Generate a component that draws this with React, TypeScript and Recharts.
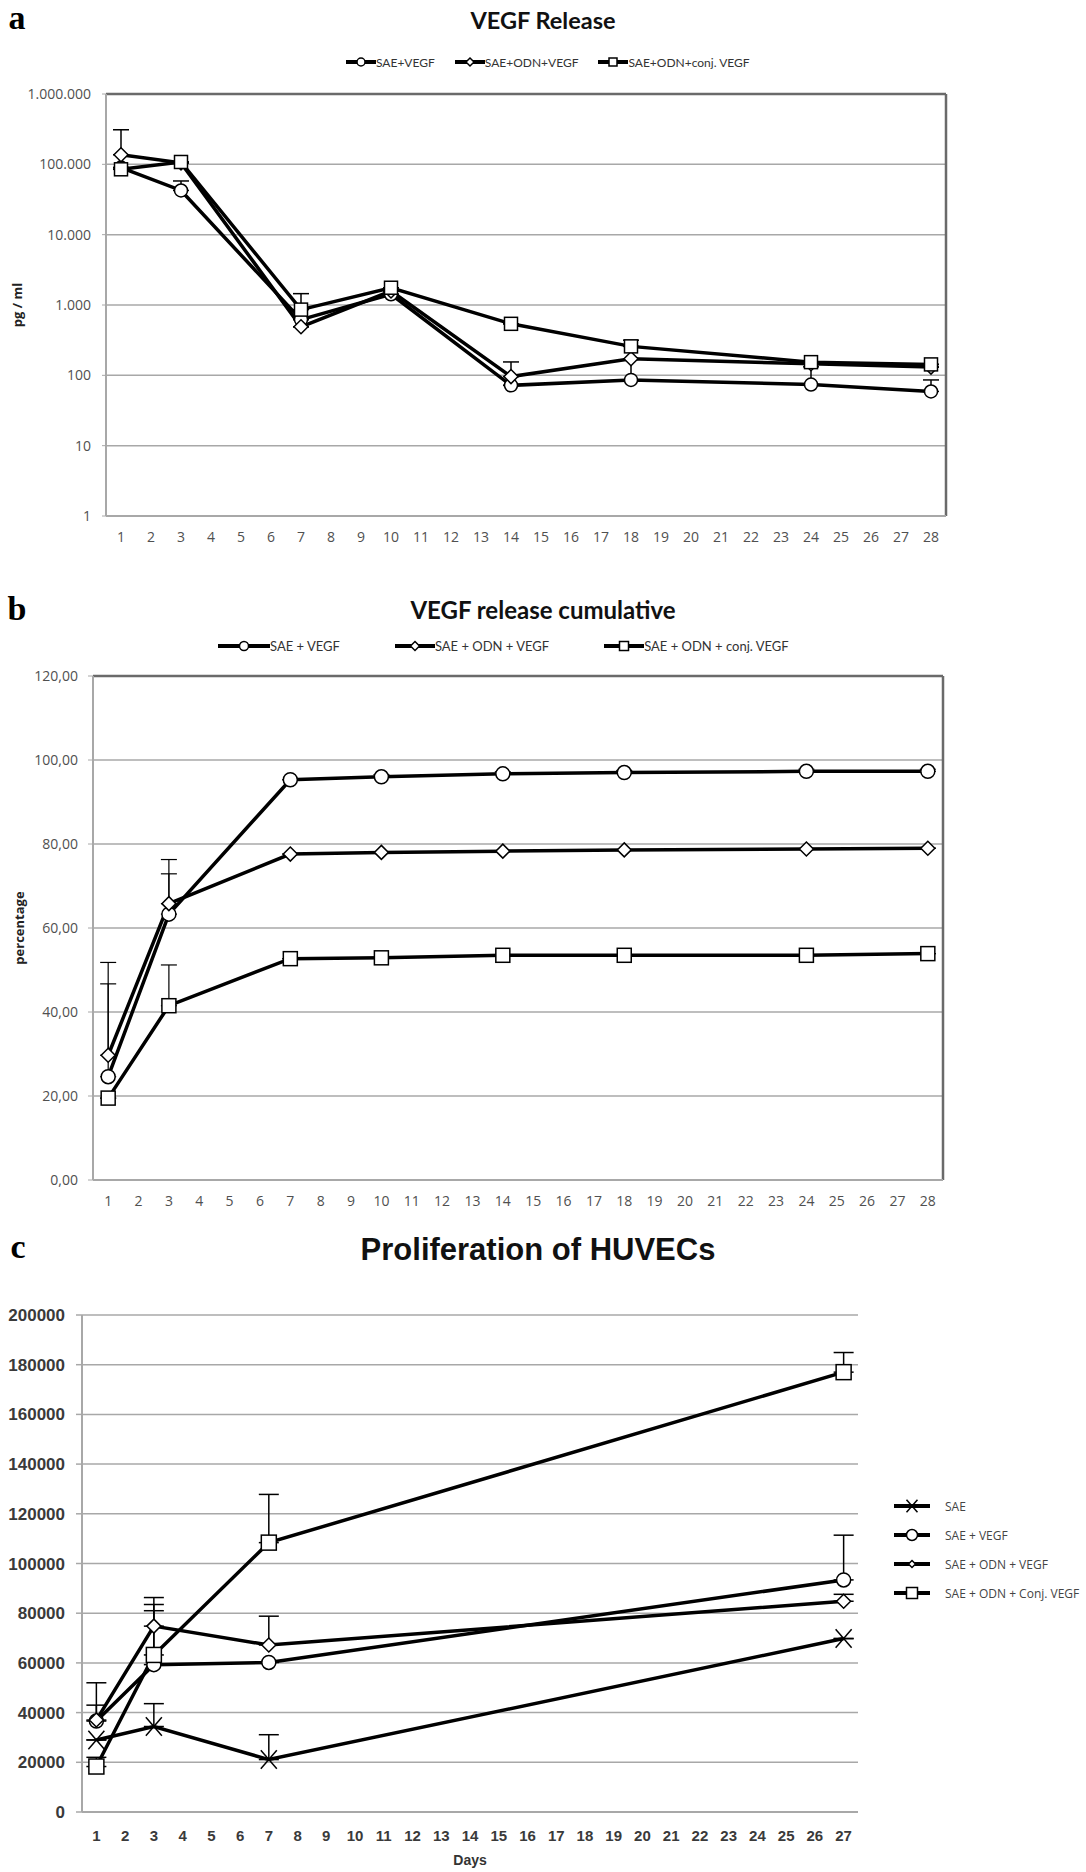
import React from 'react';
import {
  CartesianGrid,
  ErrorBar,
  Line,
  LineChart,
  ReferenceLine,
  XAxis,
  YAxis,
} from 'recharts';

// panel a: VEGF release, pg/ml on a log axis
const releaseDays = [1, 3, 7, 10, 14, 18, 24, 28];
const releaseSaeVegf = [90000, 42500, 620, 1420, 72, 86, 74, 59];
const releaseSaeOdnVegf = [137000, 105000, 490, 1580, 96, 172, 146, 131];
const releaseSaeOdnConj = [85000, 108000, 860, 1760, 540, 258, 154, 143];
const releaseSaeVegfErr = [0, 15500, 0, 0, 0, 84, 58, 27];
const releaseSaeOdnVegfErr = [173000, 0, 0, 0, 59, 0, 0, 0];
const releaseSaeOdnConjErr = [0, 0, 590, 0, 0, 58, 0, 0];
const releaseTicks = [1, 10, 100, 1000, 10000, 100000, 1000000];
const releaseLegend = ['SAE+VEGF', 'SAE+ODN+VEGF', 'SAE+ODN+conj. VEGF'];

// panel b: cumulative release, percentage
const cumulativeSaeVegf = [24.6, 63.3, 95.3, 96.0, 96.7, 97.0, 97.3, 97.3];
const cumulativeSaeOdnVegf = [29.7, 65.8, 77.6, 78.0, 78.3, 78.6, 78.8, 79.0];
const cumulativeSaeOdnConj = [19.5, 41.5, 52.7, 52.9, 53.5, 53.5, 53.5, 53.9];
const cumulativeSaeVegfErr = [22.1, 9.6, 0, 0.5, 0.5, 0.5, 0.5, 0.5];
const cumulativeSaeOdnVegfErr = [22.1, 10.5, 0, 0, 0, 0, 0, 0];
const cumulativeSaeOdnConjErr = [0, 9.7, 0, 0, 0, 0, 0, 0];
const cumulativeTicks = [0, 20, 40, 60, 80, 100, 120];
const cumulativeLegend = ['SAE + VEGF', 'SAE + ODN + VEGF', 'SAE + ODN + conj. VEGF'];

// panel c: proliferation of HUVECs
const prolifDays = [1, 3, 7, 27];
const prolifSae = [29000, 34400, 21100, 69800];
const prolifSaeVegf = [36600, 59300, 60200, 93400];
const prolifSaeOdnVegf = [37000, 74800, 67200, 84800];
const prolifSaeOdnConj = [18300, 63200, 108400, 177000];
const prolifSaeErr = [0, 9200, 10000, 0];
const prolifSaeVegfErr = [6400, 21700, 0, 18000];
const prolifSaeOdnVegfErr = [15000, 11500, 11600, 2800];
const prolifSaeOdnConjErr = [3700, 20300, 19400, 7900];
const prolifTicks = [0, 20000, 40000, 60000, 80000, 100000, 120000, 140000, 160000, 180000, 200000];
const prolifLegend = ['SAE', 'SAE + VEGF', 'SAE + ODN + VEGF', 'SAE + ODN + Conj. VEGF'];

const daysTo28 = [1, 2, 3, 4, 5, 6, 7, 8, 9, 10, 11, 12, 13, 14, 15, 16, 17, 18, 19, 20, 21, 22, 23, 24, 25, 26, 27, 28];
const daysTo27 = daysTo28.slice(0, 27);
const edgesOf = (days: number[]) => [days[0] - 0.5, ...days.map((d) => d + 0.5)];

const releaseRows = releaseDays.map((day, i) => ({
  day,
  saeVegf: releaseSaeVegf[i],
  saeOdnVegf: releaseSaeOdnVegf[i],
  saeOdnConj: releaseSaeOdnConj[i],
  saeVegfErr: [0, releaseSaeVegfErr[i]],
  saeOdnVegfErr: [0, releaseSaeOdnVegfErr[i]],
  saeOdnConjErr: [0, releaseSaeOdnConjErr[i]],
}));

const cumulativeRows = releaseDays.map((day, i) => ({
  day,
  saeVegf: cumulativeSaeVegf[i],
  saeOdnVegf: cumulativeSaeOdnVegf[i],
  saeOdnConj: cumulativeSaeOdnConj[i],
  saeVegfErr: [0, cumulativeSaeVegfErr[i]],
  saeOdnVegfErr: [0, cumulativeSaeOdnVegfErr[i]],
  saeOdnConjErr: [0, cumulativeSaeOdnConjErr[i]],
}));

const prolifRows = prolifDays.map((day, i) => ({
  day,
  sae: prolifSae[i],
  saeVegf: prolifSaeVegf[i],
  saeOdnVegf: prolifSaeOdnVegf[i],
  saeOdnConj: prolifSaeOdnConj[i],
  saeErr: [0, prolifSaeErr[i]],
  saeVegfErr: [0, prolifSaeVegfErr[i]],
  saeOdnVegfErr: [0, prolifSaeOdnVegfErr[i]],
  saeOdnConjErr: [0, prolifSaeOdnConjErr[i]],
}));

const GRID = '#a8a8a8';
const FRAME = '#6a6a6a';
const LABEL_FONT = 'Open Sans, sans-serif';

type Shape = 'circle' | 'diamond' | 'square' | 'cross';

function Marker({ cx, cy, shape, size }: { cx?: number; cy?: number; shape: Shape; size: number }) {
  if (cx == null || cy == null || Number.isNaN(cx) || Number.isNaN(cy)) return null;
  const s = size;
  const common = { fill: '#fff', stroke: '#000', strokeWidth: 1.5 };
  if (shape === 'circle') return <circle cx={cx} cy={cy} r={s} {...common} />;
  if (shape === 'square') return <rect x={cx - s} y={cy - s} width={2 * s} height={2 * s} {...common} />;
  if (shape === 'diamond')
    return <polygon points={`${cx},${cy - s} ${cx + s},${cy} ${cx},${cy + s} ${cx - s},${cy}`} {...common} />;
  return (
    <g stroke="#000" strokeWidth={1.5}>
      <line x1={cx - s} y1={cy - s * 1.15} x2={cx + s} y2={cy + s * 1.15} />
      <line x1={cx - s} y1={cy + s * 1.15} x2={cx + s} y2={cy - s * 1.15} />
    </g>
  );
}

const dotOf = (shape: Shape, size: number) => (p: any) => (
  <Marker key={`${shape}-${p.index}`} cx={p.cx} cy={p.cy} shape={shape} size={size} />
);

function LegendIcon({ shape, width, size }: { shape: Shape; width: number; size: number }) {
  return (
    <svg width={width} height={18} style={{ display: 'block', flex: 'none' }}>
      <line x1={0} y1={9} x2={width} y2={9} stroke="#000" strokeWidth={4} />
      <Marker cx={width / 2} cy={9} shape={shape} size={size} />
    </svg>
  );
}

function Caption({ x, y, style, children }: { x: number; y: number; style?: React.CSSProperties; children: React.ReactNode }) {
  return (
    <div
      style={{
        position: 'absolute',
        left: x,
        top: y,
        transform: 'translate(-50%, -50%)',
        whiteSpace: 'nowrap',
        lineHeight: 1,
        ...style,
      }}
    >
      {children}
    </div>
  );
}

const panelLetter: React.CSSProperties = {
  fontFamily: 'Liberation Serif, serif',
  fontWeight: 700,
  fontSize: 34,
  color: '#000',
};

const dotted = (v: number) => String(v).replace(/\B(?=(\d{3})+(?!\d))/g, '.');
const comma = (v: number) => v.toFixed(2).replace('.', ',');

const seriesLine = {
  type: 'linear' as const,
  stroke: '#000',
  strokeWidth: 3.5,
  activeDot: false as const,
  isAnimationActive: false,
};

function ReleaseChart() {
  return (
    <LineChart width={1086} height={560} data={releaseRows} margin={{ top: 94, right: 140, bottom: 0, left: 0 }}>
      <CartesianGrid vertical={false} stroke={GRID} strokeWidth={1.5} />
      <XAxis
        dataKey="day"
        type="number"
        domain={[0.5, 28.5]}
        ticks={daysTo28}
        interval={0}
        tickLine={false}
        axisLine={{ stroke: GRID, strokeWidth: 2 }}
        tickMargin={10}
        height={44}
        tick={{ fontSize: 14, fill: '#505050', fontFamily: LABEL_FONT }}
      />
      <YAxis
        scale="log"
        domain={[1, 1000000]}
        ticks={releaseTicks}
        interval={0}
        allowDataOverflow
        width={106}
        tickSize={4}
        tickMargin={11}
        tickLine={{ stroke: GRID }}
        axisLine={{ stroke: GRID, strokeWidth: 2 }}
        tickFormatter={dotted}
        tick={{ fontSize: 14, fill: '#505050', fontFamily: LABEL_FONT }}
        label={{
          value: 'pg / ml',
          angle: -90,
          position: 'insideLeft',
          offset: 17,
          style: { textAnchor: 'middle' },
          fontSize: 13,
          fontWeight: 700,
          fill: '#222',
          fontFamily: LABEL_FONT,
        }}
      />
      <ReferenceLine y={1000000} stroke={FRAME} strokeWidth={2.5} />
      <ReferenceLine x={28.5} stroke={FRAME} strokeWidth={2.5} />
      <Line dataKey="saeVegf" {...seriesLine} dot={dotOf('circle', 6.5)}>
        <ErrorBar dataKey="saeVegfErr" direction="y" width={8} stroke="#000" strokeWidth={1.5} />
      </Line>
      <Line dataKey="saeOdnVegf" {...seriesLine} dot={dotOf('diamond', 7)}>
        <ErrorBar dataKey="saeOdnVegfErr" direction="y" width={8} stroke="#000" strokeWidth={1.5} />
      </Line>
      <Line dataKey="saeOdnConj" {...seriesLine} dot={dotOf('square', 6.5)}>
        <ErrorBar dataKey="saeOdnConjErr" direction="y" width={8} stroke="#000" strokeWidth={1.5} />
      </Line>
    </LineChart>
  );
}

function CumulativeChart() {
  return (
    <LineChart width={1086} height={680} data={cumulativeRows} margin={{ top: 116, right: 143, bottom: 0, left: 0 }}>
      <CartesianGrid vertical={false} stroke={GRID} strokeWidth={1.5} />
      <XAxis
        dataKey="day"
        type="number"
        domain={[0.5, 28.5]}
        ticks={edgesOf(daysTo28)}
        interval={0}
        tick={false}
        tickSize={5}
        tickLine={{ stroke: GRID, strokeWidth: 1.5 }}
        axisLine={{ stroke: GRID, strokeWidth: 2 }}
        height={1}
      />
      <XAxis
        xAxisId="days"
        dataKey="day"
        type="number"
        domain={[0.5, 28.5]}
        ticks={daysTo28}
        interval={0}
        tickLine={false}
        axisLine={false}
        tickMargin={9}
        height={59}
        tick={{ fontSize: 14, fill: '#505050', fontFamily: LABEL_FONT }}
      />
      <YAxis
        domain={[0, 120]}
        ticks={cumulativeTicks}
        interval={0}
        width={93}
        tickSize={5}
        tickMargin={10}
        tickLine={{ stroke: GRID }}
        axisLine={{ stroke: GRID, strokeWidth: 2 }}
        tickFormatter={comma}
        tick={{ fontSize: 14, fill: '#505050', fontFamily: LABEL_FONT }}
        label={{
          value: 'percentage',
          angle: -90,
          position: 'insideLeft',
          offset: 19,
          style: { textAnchor: 'middle' },
          fontSize: 13,
          fontWeight: 700,
          fill: '#222',
          fontFamily: LABEL_FONT,
        }}
      />
      <ReferenceLine y={120} stroke={FRAME} strokeWidth={2.5} />
      <ReferenceLine x={28.5} stroke={FRAME} strokeWidth={2.5} />
      <Line dataKey="saeVegf" {...seriesLine} dot={dotOf('circle', 7)}>
        <ErrorBar dataKey="saeVegfErr" direction="y" width={8} stroke="#000" strokeWidth={1.2} />
      </Line>
      <Line dataKey="saeOdnVegf" {...seriesLine} dot={dotOf('diamond', 7)}>
        <ErrorBar dataKey="saeOdnVegfErr" direction="y" width={8} stroke="#000" strokeWidth={1.2} />
      </Line>
      <Line dataKey="saeOdnConj" {...seriesLine} dot={dotOf('square', 7)}>
        <ErrorBar dataKey="saeOdnConjErr" direction="y" width={8} stroke="#000" strokeWidth={1.2} />
      </Line>
    </LineChart>
  );
}

function ProliferationChart() {
  const tickFont = { fontSize: 17, fill: '#3a3a3a', fontFamily: 'Liberation Sans, Arial, sans-serif', fontWeight: 700 };
  return (
    <LineChart width={1086} height={652} data={prolifRows} margin={{ top: 95, right: 228, bottom: 0, left: 0 }}>
      <CartesianGrid vertical={false} stroke={GRID} strokeWidth={1.5} />
      <XAxis
        dataKey="day"
        type="number"
        domain={[0.5, 27.5]}
        ticks={edgesOf(daysTo27)}
        interval={0}
        tick={false}
        tickSize={6}
        tickLine={{ stroke: GRID, strokeWidth: 1.5 }}
        axisLine={{ stroke: GRID, strokeWidth: 2 }}
        height={1}
      />
      <XAxis
        xAxisId="days"
        dataKey="day"
        type="number"
        domain={[0.5, 27.5]}
        ticks={daysTo27}
        interval={0}
        tickLine={false}
        axisLine={false}
        tickMargin={11}
        height={59}
        tick={{ ...tickFont, fontSize: 15 }}
        label={{
          value: 'Days',
          position: 'insideBottom',
          offset: 7,
          fontSize: 14,
          fontWeight: 700,
          fill: '#333',
          fontFamily: 'Liberation Sans, Arial, sans-serif',
        }}
      />
      <YAxis
        domain={[0, 200000]}
        ticks={prolifTicks}
        interval={0}
        width={82}
        tickSize={6}
        tickMargin={11}
        tickLine={{ stroke: GRID, strokeWidth: 1.5 }}
        axisLine={{ stroke: GRID, strokeWidth: 2 }}
        tick={tickFont}
      />
      <Line dataKey="sae" {...seriesLine} dot={dotOf('cross', 8)}>
        <ErrorBar dataKey="saeErr" direction="y" width={10} stroke="#000" strokeWidth={1.5} />
      </Line>
      <Line dataKey="saeVegf" {...seriesLine} dot={dotOf('circle', 7)}>
        <ErrorBar dataKey="saeVegfErr" direction="y" width={10} stroke="#000" strokeWidth={1.5} />
      </Line>
      <Line dataKey="saeOdnVegf" {...seriesLine} dot={dotOf('diamond', 7)}>
        <ErrorBar dataKey="saeOdnVegfErr" direction="y" width={10} stroke="#000" strokeWidth={1.5} />
      </Line>
      <Line dataKey="saeOdnConj" {...seriesLine} dot={dotOf('square', 7.5)}>
        <ErrorBar dataKey="saeOdnConjErr" direction="y" width={10} stroke="#000" strokeWidth={1.5} />
      </Line>
    </LineChart>
  );
}

const legendShapes: Shape[] = ['circle', 'diamond', 'square'];
const prolifShapes: Shape[] = ['cross', 'circle', 'diamond', 'square'];

export default function App() {
  return (
    <div
      style={{
        position: 'absolute',
        left: 0,
        top: 0,
        width: 1086,
        height: 1872,
        background: '#fff',
        overflow: 'hidden',
      }}
    >
      <div style={{ position: 'absolute', left: 0, top: 0 }}>
        <ReleaseChart />
      </div>
      <div style={{ position: 'absolute', left: 0, top: 560 }}>
        <CumulativeChart />
      </div>
      <div style={{ position: 'absolute', left: 0, top: 1220 }}>
        <ProliferationChart />
      </div>

      <Caption x={17} y={18} style={panelLetter}>a</Caption>
      <Caption x={17} y={609} style={panelLetter}>b</Caption>
      <Caption x={18} y={1247} style={panelLetter}>c</Caption>

      <Caption x={543} y={21} style={{ fontFamily: 'Lato, sans-serif', fontWeight: 700, fontSize: 23.5, color: '#111' }}>
        VEGF Release
      </Caption>
      <Caption x={543} y={610} style={{ fontFamily: 'Lato, sans-serif', fontWeight: 700, fontSize: 24, color: '#111' }}>
        VEGF release cumulative
      </Caption>
      <Caption
        x={538}
        y={1249}
        style={{ fontFamily: 'Liberation Sans, Arial, sans-serif', fontWeight: 700, fontSize: 31, color: '#111' }}
      >
        Proliferation of HUVECs
      </Caption>

      <div
        style={{
          position: 'absolute',
          left: 346,
          top: 62,
          transform: 'translateY(-50%)',
          display: 'flex',
          alignItems: 'center',
          gap: 20,
          fontFamily: 'Lato, sans-serif',
          fontSize: 12,
          color: '#333',
          whiteSpace: 'nowrap',
        }}
      >
        {releaseLegend.map((name, i) => (
          <div key={name} style={{ display: 'flex', alignItems: 'center' }}>
            <LegendIcon shape={legendShapes[i]} width={30} size={4} />
            <span>{name}</span>
          </div>
        ))}
      </div>

      <div
        style={{
          position: 'absolute',
          left: 218,
          top: 646,
          transform: 'translateY(-50%)',
          display: 'flex',
          alignItems: 'center',
          gap: 55,
          fontFamily: 'Lato, sans-serif',
          fontSize: 13,
          color: '#333',
          whiteSpace: 'nowrap',
        }}
      >
        {cumulativeLegend.map((name, i) => (
          <div key={name} style={{ display: 'flex', alignItems: 'center' }}>
            <LegendIcon shape={legendShapes[i]} width={i === 0 ? 52 : 40} size={4.5} />
            <span>{name}</span>
          </div>
        ))}
      </div>

      <div
        style={{
          position: 'absolute',
          left: 894,
          top: 1497,
          display: 'flex',
          flexDirection: 'column',
          gap: 11,
          fontFamily: LABEL_FONT,
          fontSize: 12,
          color: '#444',
          whiteSpace: 'nowrap',
        }}
      >
        {prolifLegend.map((name, i) => (
          <div key={name} style={{ display: 'flex', alignItems: 'center', gap: 15, height: 18 }}>
            <LegendIcon shape={prolifShapes[i]} width={36} size={i === 2 ? 3.5 : 5.5} />
            <span>{name}</span>
          </div>
        ))}
      </div>
    </div>
  );
}
